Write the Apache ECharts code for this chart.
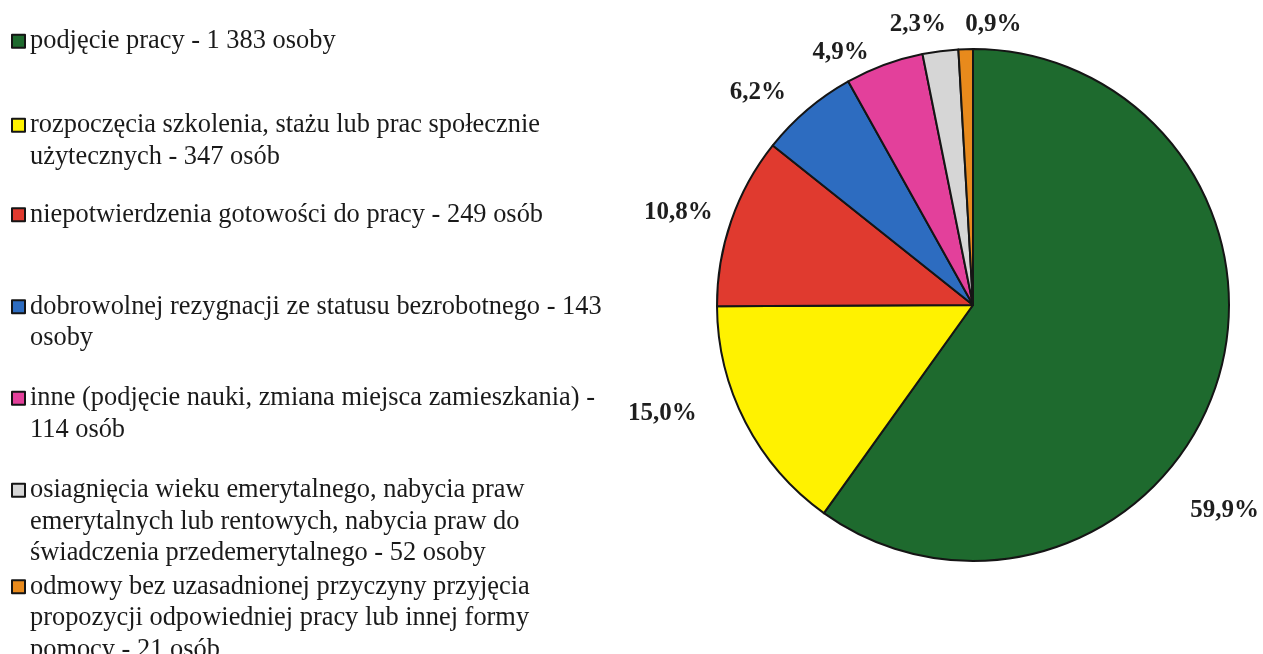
<!DOCTYPE html>
<html>
<head>
<meta charset="utf-8">
<script src="https://cdn.jsdelivr.net/npm/echarts@6/dist/echarts.min.js"></script>
<style>
html, body { margin: 0; padding: 0; background: #fff; }
#main { width: 1263px; height: 654px; }
</style>
</head>
<body>
<div id="main"></div>
<script>
// dane z wykresu
const categories = [
  'podjęcie pracy - 1 383 osoby',
  'rozpoczęcia szkolenia, stażu lub prac społecznie\nużytecznych - 347 osób',
  'niepotwierdzenia gotowości do pracy - 249 osób',
  'dobrowolnej rezygnacji ze statusu bezrobotnego - 143\nosoby',
  'inne (podjęcie nauki, zmiana miejsca zamieszkania) -\n114 osób',
  'osiagnięcia wieku emerytalnego, nabycia praw\nemerytalnych lub rentowych, nabycia praw do\nświadczenia przedemerytalnego - 52 osoby',
  'odmowy bez uzasadnionej przyczyny przyjęcia\npropozycji odpowiedniej pracy lub innej formy\npomocy - 21 osób'
];
const counts = [1383, 347, 249, 143, 114, 52, 21];

// wygląd
const colors = ['#1e6a2e', '#fff200', '#e03a2f', '#2d6cc0', '#e3409b', '#d6d6d6', '#e88a1c'];
const legendY = [41, 125, 214.5, 306.5, 398, 490, 586.5];   // środek znacznika
const labelShift = [[-41, 124], [-35, -14], [-4, -5], [-10, -10], [-7, -3], [12, -17], [61, -15]];
const lineH = 31.5;
const serif = '"Liberation Serif", "Times New Roman", serif';

var chartDom = document.getElementById('main');
var myChart = echarts.init(chartDom);

// znacznik przy pierwszej linii: puste linie na górze wyrównują środek bloku
var legends = categories.map(function (name, i) {
  var extra = name.split('\n').length - 1;
  return {
    data: [name],
    orient: 'vertical',
    left: 11,
    top: legendY[i] - 15.5 - extra * lineH,
    padding: 0,
    itemWidth: 13,
    itemHeight: 13,
    icon: 'rect',
    selectedMode: false,
    formatter: function (n) {
      return '\n'.repeat(extra) + n;
    },
    textStyle: {
      fontFamily: serif,
      fontSize: 26.4,
      lineHeight: lineH,
      color: '#1a1a1a'
    }
  };
});

var option = {
  backgroundColor: '#fff',
  animation: false,
  legend: legends,
  series: [
    {
      type: 'pie',
      center: [973, 305],
      radius: 256,
      startAngle: 90,
      clockwise: true,
      percentPrecision: 1,
      avoidLabelOverlap: false,
      itemStyle: {
        borderColor: '#151515',
        borderWidth: 2
      },
      label: {
        show: true,
        position: 'outside',
        fontFamily: serif,
        fontWeight: 'bold',
        fontSize: 25,
        color: '#1e1e1e',
        distanceToLabelLine: 5,
        formatter: function (p) {
          return p.percent.toFixed(1).replace('.', ',') + '%';
        }
      },
      labelLine: { show: false, length: 10, length2: 0 },
      labelLayout: function (p) {
        var s = labelShift[p.dataIndex];
        return { dx: s[0], dy: s[1] };
      },
      data: categories.map(function (name, i) {
        return { name: name, value: counts[i], itemStyle: { color: colors[i] } };
      })
    }
  ]
};

option && myChart.setOption(option);
</script>
</body>
</html>
